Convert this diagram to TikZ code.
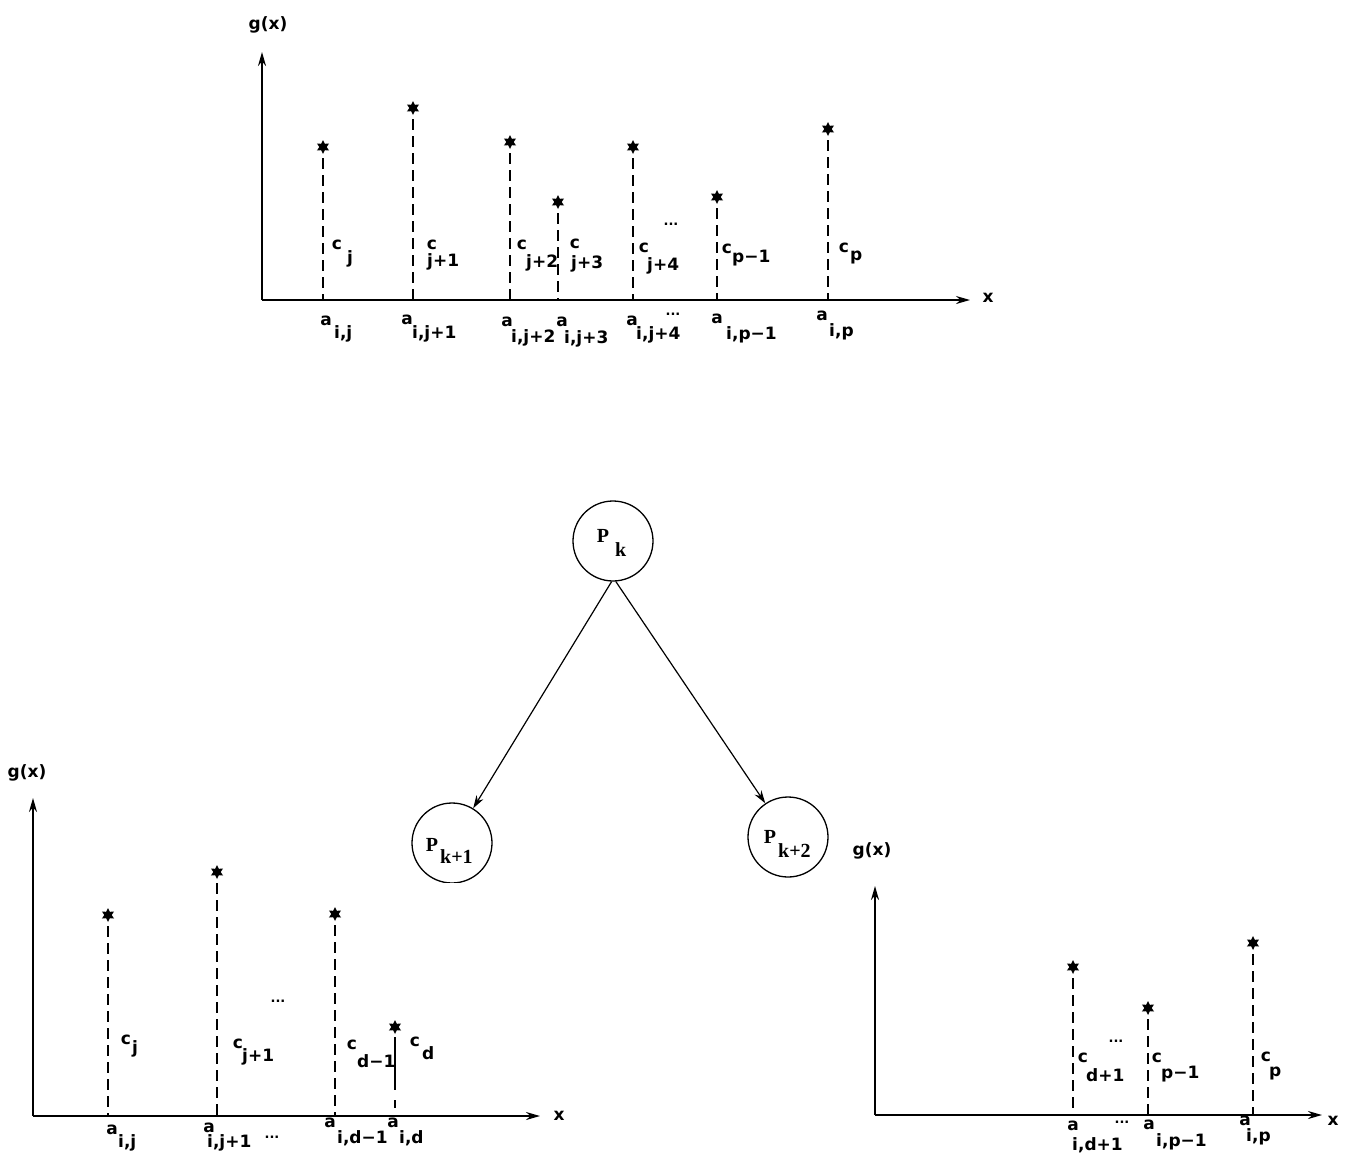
\documentclass[tikz,border=0pt]{standalone}
\usepackage{fontspec}
\setmainfont{DejaVu Sans}
\newfontfamily\pfont{Liberation Serif}
\usetikzlibrary{arrows.meta,shapes.geometric}
\newcommand\sublabel[7]{%
  \node[lab] (#1) at (#2,#3) {#4};
  \node[lab,anchor=west] (#1s) at (#5,#6) {#7};}
\begin{document}
\begin{tikzpicture}[x=1pt,y=-1pt,
  axis/.style={line width=1.9pt,-{Stealth[length=14pt,width=8pt]}},
  stem/.style={line width=1.7pt,dash pattern=on 11pt off 6pt},
  solidstem/.style={line width=1.7pt},
  lab/.style={font=\fontsize{17}{19}\selectfont\bfseries,inner sep=0pt},
  dots/.style={font=\fontsize{13}{15}\selectfont\bfseries,inner sep=0pt},
  starm/.style={star,star points=6,star point ratio=1.9,fill,inner sep=0pt,minimum size=14pt},
  circ/.style={circle,draw,line width=1.3pt,minimum size=80pt,inner sep=0pt},
  ptext/.style={font=\pfont\bfseries\fontsize{20}{22}\selectfont,inner sep=0pt},
  edge/.style={line width=1.2pt,-{Stealth[length=13pt,width=8pt]}}]
\useasboundingbox (0,0) rectangle (1351,1159);

% ===================== top chart =====================
\coordinate (TO) at (262,300);
\coordinate (TY) at (262,52);
\coordinate (TX) at (970,300);
\draw[axis] (TO) -- (TY);
\draw[axis] (TO) -- (TX);
\node[lab] (tgx) at (268,25) {g(x)};
\node[lab] (tx) at (988,298) {x};
\foreach \n/\x/\y in {1/323/147,2/413/108,3/510/142,4/558/202,5/633/147,6/717/197,7/828/129}{
  \node[starm] (ts\n) at (\x,\y) {};
  \coordinate (tb\n) at (\x,300);
  \draw[stem] ([yshift=-4pt]ts\n.south) -- (tb\n);
}
\sublabel{tc1}{337}{245}{c}{347}{259}{j}
\sublabel{tc2}{432}{245}{c}{427}{262}{j+1}
\sublabel{tc3}{522}{245}{c}{526}{263}{j+2}
\sublabel{tc4}{575}{244}{c}{571}{264}{j+3}
\sublabel{tc5}{644}{248}{c}{647}{266}{j+4}
\sublabel{tc6}{727}{249}{c}{732}{258}{p−1}
\sublabel{tc7}{844}{248}{c}{850}{258}{p}
\node[dots] (tdots1) at (671,224) {...};
\sublabel{ta1}{326}{321}{a}{334}{334}{i,j}
\sublabel{ta2}{407}{320}{a}{412}{334}{i,j+1}
\sublabel{ta3}{507}{322}{a}{511}{338}{i,j+2}
\sublabel{ta4}{562}{322}{a}{564}{339}{i,j+3}
\sublabel{ta5}{632}{321}{a}{636}{335}{i,j+4}
\sublabel{ta6}{717}{319}{a}{726}{335}{i,p−1}
\sublabel{ta7}{822}{316}{a}{829}{332}{i,p}
\node[dots] (tdots2) at (673,314) {...};

% ===================== tree =====================
\node[circ] (Pk) at (613,541) {};
\node[ptext] (PkP) at (603,536) {P};
\node[ptext,anchor=west] (Pkk) at (615,550) {k};
\begin{scope}
  \clip (380,780) rectangle (530,882);
  \node[circ] (Pk1) at (452,843) {};
\end{scope}
\node[ptext] (Pk1P) at (432,845) {P};
\node[ptext,anchor=west] (Pk1k) at (440,857) {k+1};
\node[circ] (Pk2) at (788,837) {};
\node[ptext] (Pk2P) at (770,837) {P};
\node[ptext,anchor=west] (Pk2k) at (778,851) {k+2};
\draw[edge] (Pk.-92) -- (Pk1);
\draw[edge] (Pk.-86) -- (Pk2);

% ===================== bottom-left chart =====================
\coordinate (LO) at (33,1116);
\coordinate (LY) at (33,798);
\coordinate (LX) at (540,1116);
\draw[axis] (LO) -- (LY);
\draw[axis] (LO) -- (LX);
\node[lab] (lgx) at (27,773) {g(x)};
\node[lab] (lx) at (559,1116) {x};
\foreach \n/\x/\y in {1/108/915,2/217/872,3/335/914}{
  \node[starm] (ls\n) at (\x,\y) {};
  \coordinate (lb\n) at (\x,1116);
  \draw[stem] ([yshift=-4pt]ls\n.south) -- (lb\n);
}
\node[starm] (ls4) at (395,1027) {};
\coordinate (lb4) at (395,1116);
\coordinate (lm4) at (395,1090);
\draw[solidstem] ([yshift=-3pt]ls4.south) -- (lm4);
\draw[solidstem] ([yshift=-10pt]lm4) -- ([yshift=-18pt]lm4);
\sublabel{lc1}{126}{1040}{c}{132}{1049}{j}
\sublabel{lc2}{238}{1044}{c}{242}{1057}{j+1}
\sublabel{lc3}{352}{1045}{c}{357}{1061}{d−1}
\sublabel{lc4}{415}{1042}{c}{422}{1053}{d}
\node[dots] (ldots1) at (278,1001) {...};
\sublabel{la1}{112}{1130}{a}{118}{1143}{i,j}
\sublabel{la2}{209}{1128}{a}{207}{1143}{i,j+1}
\sublabel{la3}{330}{1123}{a}{337}{1138}{i,d−1}
\sublabel{la4}{393}{1123}{a}{399}{1138}{i,d}
\node[dots] (ldots2) at (272,1137) {...};

% ===================== bottom-right chart =====================
\coordinate (RO) at (875,1115);
\coordinate (RY) at (875,886);
\coordinate (RX) at (1322,1115);
\draw[axis] (RO) -- (RY);
\draw[axis] (RO) -- (RX);
\node[lab] (rgx) at (872,851) {g(x)};
\node[lab] (rx) at (1333,1121) {x};
\foreach \n/\x/\y in {1/1073/967,2/1148/1008,3/1253/943}{
  \node[starm] (rs\n) at (\x,\y) {};
  \coordinate (rb\n) at (\x,1115);
  \draw[stem] ([yshift=-4pt]rs\n.south) -- (rb\n);
}
\sublabel{rc1}{1083}{1058}{c}{1086}{1075}{d+1}
\sublabel{rc2}{1157}{1058}{c}{1161}{1074}{p−1}
\sublabel{rc3}{1266}{1057}{c}{1269}{1073}{p}
\node[dots] (rdots1) at (1116,1041) {...};
\sublabel{ra1}{1073}{1126}{a}{1072}{1145}{i,d+1}
\sublabel{ra2}{1149}{1125}{a}{1156}{1142}{i,p−1}
\sublabel{ra3}{1245}{1121}{a}{1246}{1137}{i,p}
\node[dots] (rdots2) at (1122,1122) {...};
\end{tikzpicture}
\end{document}
